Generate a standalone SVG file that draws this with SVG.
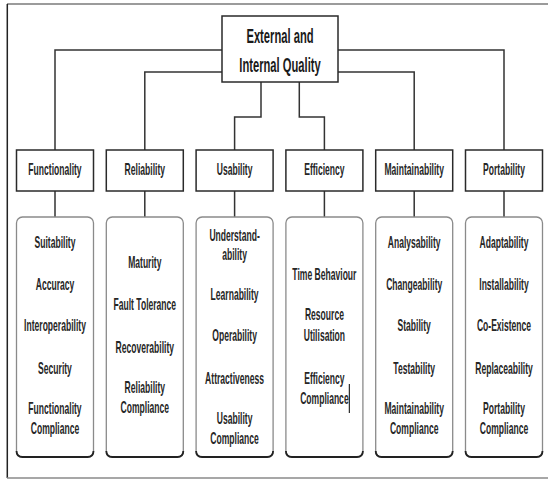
<svg xmlns="http://www.w3.org/2000/svg" width="548" height="479" viewBox="0 0 548 479">
<style>
.t{font-family:"Liberation Sans",Arial,sans-serif;font-size:16px;font-weight:bold;fill:#262626;text-anchor:middle}
.tt{font-family:"Liberation Sans",Arial,sans-serif;font-size:20px;font-weight:bold;fill:#1a1a1a;text-anchor:middle}
.cat{fill:#fff;stroke:#2a2a2a;stroke-width:1.5}
.det{fill:#fff;stroke:#8a8a8a;stroke-width:1.3}
.sh{fill:none;stroke:#222;stroke-width:1.8}
.c{fill:none;stroke:#333;stroke-width:1.5}
</style>
<rect width="548" height="479" fill="#fff"/>
<g id="frame" fill="none">
<line x1="7" y1="4" x2="548" y2="4" stroke="#7a7a7a" stroke-width="1.5"/>
<line x1="7.3" y1="4" x2="7.3" y2="478" stroke="#222" stroke-width="1.5"/>
<line x1="7" y1="478" x2="548" y2="478" stroke="#8a8a8a" stroke-width="1.5"/>
</g>
<g id="connectors">
<path class="c" d="M222,50 H55 V150"/>
<path class="c" d="M222,72 H144.8 V150"/>
<path class="c" d="M261,82 V117 H234.6 V150"/>
<path class="c" d="M299.3,82 V117 H324.4 V150"/>
<path class="c" d="M338,72 H414.2 V150"/>
<path class="c" d="M338,50 H504 V150"/>
<path class="c" d="M55,191 V217 M144.8,191 V217 M234.6,191 V217 M324.4,191 V217 M414.2,191 V217 M504,191 V217"/>
</g>
<g id="root">
<rect class="cat" x="222" y="16" width="116" height="66"/>
<g transform="matrix(0.56 0 0 1 123.2 0)">
<text class="tt" x="280" y="43">External and</text>
<text class="tt" x="280" y="72">Internal Quality</text>
</g>
</g>
<g id="functionality">
<rect class="cat" x="16.5" y="150" width="77" height="41"/>
<rect class="det" x="16.5" y="217" width="77" height="240" rx="6"/>
<path class="sh" d="M16.5,451 Q16.5,457 22.5,457 H87.5 Q93.5,457 93.5,451"/>
<g transform="matrix(0.535 0 0 1 25.575 0)">
<text class="t" x="55" y="175.5">Functionality</text>
<text class="t" x="55" y="248.5">Suitability</text>
<text class="t" x="55" y="290">Accuracy</text>
<text class="t" x="55" y="331.5">Interoperability</text>
<text class="t" x="55" y="374">Security</text>
<text class="t" x="55" y="414">Functionality</text>
<text class="t" x="55" y="434">Compliance</text>
</g>
</g>
<g id="reliability">
<rect class="cat" x="106.3" y="150" width="77" height="41"/>
<rect class="det" x="106.3" y="217" width="77" height="240" rx="6"/>
<path class="sh" d="M106.3,451 Q106.3,457 112.3,457 H177.3 Q183.3,457 183.3,451"/>
<g transform="matrix(0.535 0 0 1 67.332 0)">
<text class="t" x="144.8" y="175.5">Reliability</text>
<text class="t" x="144.8" y="268.5">Maturity</text>
<text class="t" x="144.8" y="310.5">Fault Tolerance</text>
<text class="t" x="144.8" y="353">Recoverability</text>
<text class="t" x="144.8" y="393">Reliability</text>
<text class="t" x="144.8" y="413">Compliance</text>
</g>
</g>
<g id="usability">
<rect class="cat" x="196.1" y="150" width="77" height="41"/>
<rect class="det" x="196.1" y="217" width="77" height="240" rx="6"/>
<path class="sh" d="M196.1,451 Q196.1,457 202.1,457 H267.1 Q273.1,457 273.1,451"/>
<g transform="matrix(0.535 0 0 1 109.089 0)">
<text class="t" x="234.6" y="175.5">Usability</text>
<text class="t" x="234.6" y="241.5">Understand-</text>
<text class="t" x="234.6" y="260">ability</text>
<text class="t" x="234.6" y="300">Learnability</text>
<text class="t" x="234.6" y="341">Operability</text>
<text class="t" x="234.6" y="384">Attractiveness</text>
<text class="t" x="234.6" y="424">Usability</text>
<text class="t" x="234.6" y="444.5">Compliance</text>
</g>
</g>
<g id="efficiency">
<rect class="cat" x="285.9" y="150" width="77" height="41"/>
<rect class="det" x="285.9" y="217" width="77" height="240" rx="6"/>
<path class="sh" d="M285.9,451 Q285.9,457 291.9,457 H356.9 Q362.9,457 362.9,451"/>
<g transform="matrix(0.535 0 0 1 150.846 0)">
<text class="t" x="324.4" y="175.5">Efficiency</text>
<text class="t" x="324.4" y="280">Time Behaviour</text>
<text class="t" x="324.4" y="320.5">Resource</text>
<text class="t" x="324.4" y="341.5">Utilisation</text>
<text class="t" x="324.4" y="384">Efficiency</text>
<text class="t" x="324.4" y="404">Compliance</text>
</g>
<line x1="349.3" y1="384" x2="349.3" y2="413" stroke="#000" stroke-width="1"/>
</g>
<g id="maintainability">
<rect class="cat" x="375.7" y="150" width="77" height="41"/>
<rect class="det" x="375.7" y="217" width="77" height="240" rx="6"/>
<path class="sh" d="M375.7,451 Q375.7,457 381.7,457 H446.7 Q452.7,457 452.7,451"/>
<g transform="matrix(0.535 0 0 1 192.603 0)">
<text class="t" x="414.2" y="175.5">Maintainability</text>
<text class="t" x="414.2" y="248">Analysability</text>
<text class="t" x="414.2" y="290">Changeability</text>
<text class="t" x="414.2" y="331.5">Stability</text>
<text class="t" x="414.2" y="374">Testability</text>
<text class="t" x="414.2" y="414.5">Maintainability</text>
<text class="t" x="414.2" y="434">Compliance</text>
</g>
</g>
<g id="portability">
<rect class="cat" x="465.5" y="150" width="77" height="41"/>
<rect class="det" x="465.5" y="217" width="77" height="240" rx="6"/>
<path class="sh" d="M465.5,451 Q465.5,457 471.5,457 H536.5 Q542.5,457 542.5,451"/>
<g transform="matrix(0.535 0 0 1 234.36 0)">
<text class="t" x="504" y="175.5">Portability</text>
<text class="t" x="504" y="248">Adaptability</text>
<text class="t" x="504" y="290">Installability</text>
<text class="t" x="504" y="331.5">Co-Existence</text>
<text class="t" x="504" y="374">Replaceability</text>
<text class="t" x="504" y="414.5">Portability</text>
<text class="t" x="504" y="434">Compliance</text>
</g>
</g>
</svg>
